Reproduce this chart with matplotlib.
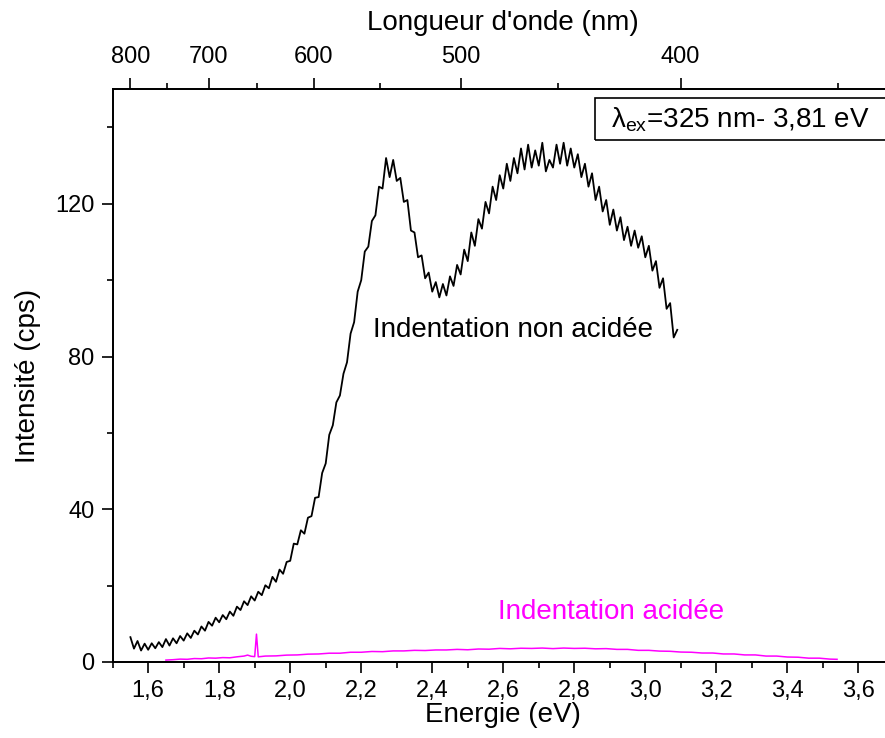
import numpy as np
import matplotlib
matplotlib.use('Agg')
import matplotlib.pyplot as plt
from matplotlib.patches import Rectangle

plt.rcParams['font.family'] = ['Liberation Sans', 'DejaVu Sans']
plt.rcParams['mathtext.fontset'] = 'custom'
plt.rcParams['mathtext.rm'] = 'Liberation Sans'
plt.rcParams['mathtext.it'] = 'Liberation Sans'

# Indentation non acidee (black), energy in eV, intensity in cps
energy_non_acid = np.round(np.arange(1.55, 3.095, 0.01), 3)
intensity_non_acid = [
    6.5, 3.5, 5.5, 3.0, 4.8, 3.2, 4.9, 3.6, 5.2, 3.9,
    6.0, 4.3, 6.2, 4.9, 6.8, 5.6, 7.5, 6.3, 8.2, 7.2,
    9.3, 8.2, 10.5, 9.5, 11.6, 10.4, 12.3, 11.2, 13.2, 12.1,
    14.5, 13.6, 15.9, 14.9, 17.2, 16.1, 18.4, 17.5, 20.1, 19.3,
    22.3, 21.0, 24.2, 23.1, 26.2, 26.5, 31.0, 30.8, 34.5, 33.6,
    37.8, 38.2, 43.0, 43.2, 49.5, 52.0, 59.5, 62.0, 68.0, 69.8,
    75.5, 78.5, 86.0, 89.0, 97.0, 100.0, 107.5, 108.8, 115.5, 117.0,
    124.5, 124.0, 132.0, 127.0, 131.5, 126.0, 126.8, 120.5, 121.0, 113.0,
    112.5, 106.0, 106.5, 100.5, 102.0, 97.0, 99.5, 95.5, 99.0, 96.0,
    101.0, 98.5, 104.0, 101.5, 108.0, 105.0, 112.5, 109.0, 116.0, 113.5,
    120.5, 117.5, 124.5, 121.0, 127.5, 124.0, 130.5, 126.0, 132.0, 128.0,
    134.5, 129.0, 135.5, 129.5, 134.0, 130.0, 136.0, 128.5, 131.5, 129.5,
    135.5, 130.5, 136.0, 130.0, 134.5, 129.5, 133.0, 127.0, 130.5, 124.5,
    128.0, 121.0, 124.5, 118.0, 121.0, 114.5, 118.5, 113.0, 116.5, 110.5,
    114.0, 109.0, 113.0, 108.5, 111.5, 106.0, 109.0, 102.5, 105.0, 98.0,
    100.5, 92.5, 94.0, 85.0, 87.0,
]

# Indentation acidee (magenta)
energy_acid = [
    1.65, 1.67, 1.69, 1.71, 1.73, 1.75, 1.77, 1.79, 1.81, 1.83,
    1.85, 1.87, 1.88, 1.89, 1.90, 1.905, 1.91, 1.93, 1.96, 1.99,
    2.02, 2.05, 2.08, 2.11, 2.14, 2.17, 2.20, 2.23, 2.26, 2.29,
    2.32, 2.35, 2.38, 2.41, 2.44, 2.47, 2.50, 2.53, 2.56, 2.59,
    2.62, 2.65, 2.68, 2.71, 2.74, 2.77, 2.80, 2.83, 2.86, 2.89,
    2.92, 2.95, 2.98, 3.01, 3.04, 3.07, 3.10, 3.13, 3.16, 3.19,
    3.22, 3.25, 3.28, 3.31, 3.34, 3.37, 3.40, 3.43, 3.46, 3.49,
    3.52, 3.54,
]
intensity_acid = [
    0.5, 0.6, 0.75, 0.7, 0.9, 0.85, 1.05, 1.0, 1.15, 1.1,
    1.35, 1.55, 1.8, 1.5, 1.4, 7.3, 1.35, 1.55, 1.6, 1.8,
    1.85, 2.05, 2.1, 2.3, 2.3, 2.55, 2.55, 2.75, 2.7, 2.9,
    2.9, 3.05, 3.0, 3.15, 3.15, 3.3, 3.2, 3.4, 3.35, 3.55,
    3.45, 3.6, 3.55, 3.65, 3.5, 3.65, 3.55, 3.6, 3.45, 3.5,
    3.3, 3.3, 3.05, 3.05, 2.85, 2.8, 2.6, 2.55, 2.35, 2.35,
    2.1, 2.1, 1.85, 1.85, 1.55, 1.55, 1.3, 1.25, 1.0, 1.0,
    0.75, 0.7,
]

wavelength_major = [800, 700, 600, 500, 400]
wavelength_minor = [750, 650, 550, 450, 350]

fig = plt.figure(figsize=(8.85, 7.38), dpi=100)
ax = fig.add_axes([0.1273, 0.103, 0.8827, 0.776])

ax.plot(energy_non_acid, intensity_non_acid, color='black', lw=1.3)
ax.plot(energy_acid, intensity_acid, color='#ff00ff', lw=1.1)

ax.set_xlim(1.5, 3.7)
ax.set_ylim(0, 150)
major_e = np.arange(1.6, 3.61, 0.2)
ax.set_xticks(major_e)
ax.set_xticklabels([('%.1f' % v).replace('.', ',') for v in major_e])
ax.set_xticks(np.arange(1.5, 3.71, 0.1), minor=True)
ax.set_yticks([0, 40, 80, 120])
ax.set_yticks([20, 60, 100, 140], minor=True)

for sp in ['left', 'bottom', 'top', 'right']:
    ax.spines[sp].set_linewidth(1.3)

ax.tick_params(which='major', direction='out', length=8, width=1.2, labelsize=17, pad=5)
ax.tick_params(which='minor', direction='out', length=4, width=1.2)
ax.set_xlabel('Energie (eV)', fontsize=20, labelpad=0)
ax.set_ylabel('Intensité (cps)', fontsize=20, labelpad=10)

# top axis: wavelength
ax2 = ax.twiny()
ax2.set_xlim(ax.get_xlim())
ax2.set_xticks([1239.84 / w for w in wavelength_major])
ax2.set_xticklabels([str(w) for w in wavelength_major])
ax2.set_xticks([1239.84 / w for w in wavelength_minor], minor=True)
ax2.tick_params(which='major', direction='out', length=8, width=1.2, labelsize=17, pad=7)
ax2.tick_params(which='minor', direction='out', length=4, width=1.2)
ax2.set_xlabel("Longueur d'onde (nm)", fontsize=20, labelpad=12)
for sp in ax2.spines.values():
    sp.set_linewidth(1.3)

ax.text(2.233, 87, 'Indentation non acidée', fontsize=20, va='center', ha='left')
ax.text(2.585, 13.1, 'Indentation acidée', fontsize=20, va='center', ha='left', color='#ff00ff')

ax.add_patch(Rectangle((0.618, 0.911), 0.45, 0.073, transform=ax.transAxes,
                       fill=False, lw=1.2, clip_on=False))
ax.text(0.638, 0.947, 'λ$_{\\mathrm{ex}}$=325 nm- 3,81 eV', transform=ax.transAxes,
        fontsize=20, va='center', ha='left')

fig.savefig('out.png', dpi=100)
